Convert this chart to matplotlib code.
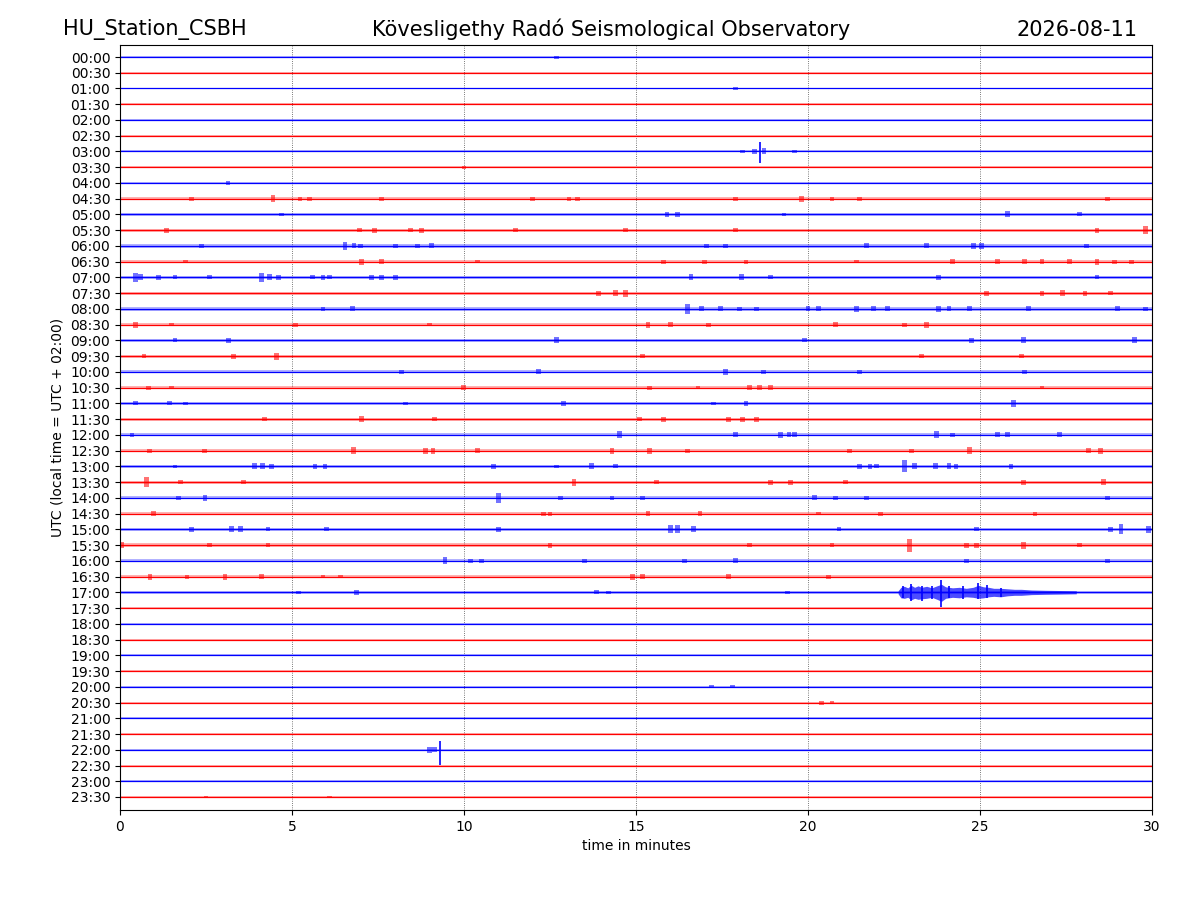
#!/usr/bin/env python3
"""Helicorder (dayplot) of station CSBH, redrawn from bursts read off the original plot."""

import matplotlib

matplotlib.use("Agg")
import matplotlib.pyplot as plt

# ------------------------------------------------------------
# Data (times in minutes within each 30 min line, amplitudes in pixels)
# ------------------------------------------------------------
STATION = "HU_Station_CSBH"
OBSERVATORY = "Kövesligethy Radó Seismological Observatory"
DAY = "2026-08-11"

ROW_LABELS = [
    "00:00", "00:30", "01:00", "01:30", "02:00", "02:30", "03:00", "03:30",
    "04:00", "04:30", "05:00", "05:30", "06:00", "06:30", "07:00", "07:30",
    "08:00", "08:30", "09:00", "09:30", "10:00", "10:30", "11:00", "11:30",
    "12:00", "12:30", "13:00", "13:30", "14:00", "14:30", "15:00", "15:30",
    "16:00", "16:30", "17:00", "17:30", "18:00", "18:30", "19:00", "19:30",
    "20:00", "20:30", "21:00", "21:30", "22:00", "22:30", "23:00", "23:30",
]

# background noise half-width per line (px)
NOISE_PX = (
    [0.8, 0.8, 0.9, 0.9, 0.8, 1.0, 1.0, 1.0, 1.0]
    + [1.6] * 26
    + [0.9] * 13
)

# short bursts per line: (minute, half amplitude px)
BURSTS = {
    0: [(12.7, 1.5)],
    2: [(17.9, 1.5)],
    6: [(18.1, 1.5), (18.45, 2.5), (18.72, 3), (19.6, 1.5)],
    7: [(10.0, 1.5)],
    8: [(3.14, 2)],
    9: [(2.08, 2), (4.45, 3.5), (5.23, 2), (5.5, 1.8), (7.6, 1.8), (12.0, 2), (13.05, 1.8),
        (13.3, 2), (17.9, 2), (19.8, 3), (20.7, 2), (21.5, 1.8), (28.7, 1.8)],
    10: [(4.7, 1.8), (15.9, 2.5), (16.2, 2.5), (19.3, 1.8), (25.8, 3), (27.9, 2)],
    11: [(1.36, 2.5), (6.97, 2), (7.4, 2.5), (8.45, 1.8), (8.77, 2.5), (11.5, 1.8), (14.7, 2),
         (17.9, 2), (28.4, 2.5), (29.8, 4)],
    12: [(2.37, 2), (6.54, 4), (6.8, 2.5), (7.0, 2), (8.0, 1.8), (8.65, 1.8), (9.06, 2.5),
         (17.05, 2), (17.6, 2), (21.7, 2.5), (23.45, 2.5), (24.8, 3), (25.05, 3), (28.1, 2)],
    13: [(1.9, 1.8), (7.02, 3), (7.6, 2.5), (10.4, 1.8), (15.8, 2), (17.0, 2), (18.2, 2),
         (21.4, 1.8), (24.2, 2.5), (25.5, 2.5), (26.3, 2.5), (26.8, 2.5), (27.6, 2.5),
         (28.4, 3), (28.9, 2), (29.4, 2)],
    14: [(0.44, 4.5), (0.6, 3), (1.11, 2.5), (1.6, 2), (2.6, 2), (4.12, 4.5), (4.35, 3),
         (4.6, 2.5), (5.6, 2), (5.9, 2.5), (6.1, 2), (7.3, 2.5), (7.6, 2.5), (8.0, 2.5),
         (16.6, 3), (18.07, 3), (18.9, 2), (23.8, 2.5), (28.4, 2)],
    15: [(13.9, 2.5), (14.4, 3), (14.7, 3.5), (25.2, 2.5), (26.8, 2.5), (27.4, 3),
         (28.05, 2.5), (28.8, 2)],
    16: [(5.9, 1.8), (6.75, 2.5), (16.5, 5), (16.9, 2.5), (17.45, 2.5), (18.0, 2), (18.5, 2),
         (20.0, 2.5), (20.3, 2.5), (21.4, 3), (21.9, 2.5), (22.3, 2.5), (23.8, 3), (24.1, 2.5),
         (24.7, 2.5), (26.4, 2.5), (29.0, 2.5), (29.8, 2)],
    17: [(0.44, 3), (1.5, 1.8), (5.1, 2), (9.0, 1.8), (15.35, 3), (16.0, 2.5), (17.1, 2),
         (20.8, 2.5), (22.8, 2), (23.45, 3)],
    18: [(1.6, 2), (3.15, 2.5), (12.7, 3), (19.9, 2), (24.75, 2.5), (26.26, 3), (29.5, 3)],
    19: [(0.7, 2), (3.3, 2.5), (4.55, 3.5), (15.2, 1.8), (23.3, 1.8), (26.2, 2)],
    20: [(8.19, 2), (12.16, 2.5), (17.6, 3), (18.7, 2), (21.5, 1.8), (26.3, 1.8)],
    21: [(0.83, 2), (1.5, 1.8), (9.98, 2.5), (15.4, 2), (16.8, 1.8), (18.3, 2.5), (18.6, 2.5),
         (18.9, 2.5), (26.8, 1.8)],
    22: [(0.45, 2), (1.45, 2), (1.9, 1.8), (8.3, 1.8), (12.9, 2.5), (17.25, 1.8), (18.2, 2.5),
         (25.97, 3.5)],
    23: [(4.2, 1.8), (7.03, 3), (9.15, 1.8), (15.1, 2), (15.8, 2.5), (17.7, 2.5), (18.1, 2.5),
         (18.5, 2.5)],
    24: [(0.35, 2), (14.53, 3.5), (17.9, 2.5), (19.2, 3), (19.45, 2.5), (19.6, 2.5),
         (23.74, 3.5), (24.2, 2), (25.5, 2.5), (25.8, 2.5), (27.3, 2.5)],
    25: [(0.85, 2), (2.46, 2), (6.78, 3.5), (8.87, 3), (9.1, 3), (10.4, 2.5), (14.3, 3),
         (15.4, 3), (16.5, 2), (21.2, 2), (23.0, 2), (24.7, 3.5), (28.15, 2.5), (28.5, 3)],
    26: [(1.6, 1.8), (3.9, 3), (4.15, 3), (4.4, 2.5), (5.67, 2.5), (5.96, 2.5), (10.85, 2.5),
         (12.7, 1.8), (13.7, 3), (14.4, 2), (21.5, 2.5), (21.8, 2.5), (22.0, 2), (22.8, 6),
         (23.1, 3), (23.7, 3), (24.1, 3), (24.3, 2.5), (25.9, 2.5)],
    27: [(0.78, 5), (1.75, 2), (3.6, 2), (13.2, 3.5), (15.6, 1.8), (18.9, 2.5), (19.5, 2.5),
         (21.1, 2), (26.26, 2.5), (28.6, 3)],
    28: [(1.7, 2), (2.47, 3), (11.0, 5), (12.8, 2), (14.3, 2), (15.2, 2), (20.2, 2.5),
         (20.8, 2), (21.7, 2), (28.7, 2)],
    29: [(0.97, 2.5), (12.3, 2), (12.5, 2), (15.35, 2.5), (16.86, 2.5), (20.3, 1.8), (22.1, 2),
         (26.6, 2)],
    30: [(2.08, 2.5), (3.25, 3), (3.5, 3), (4.3, 2), (6.0, 2), (11.0, 2.5), (16.0, 4),
         (16.2, 4), (16.66, 3), (20.9, 2), (24.9, 2), (28.8, 2.5), (29.1, 5), (29.9, 3.5)],
    31: [(0.05, 3), (2.6, 1.8), (4.3, 2), (12.5, 2.5), (18.3, 1.8), (20.7, 2), (22.96, 6.5),
         (24.6, 2.5), (24.9, 2.5), (26.26, 3.5), (27.9, 2)],
    32: [(9.45, 3.5), (10.2, 2), (10.5, 1.8), (13.5, 2), (16.4, 2), (17.9, 2.5), (24.6, 2),
         (28.7, 2)],
    33: [(0.87, 3), (1.95, 2), (3.05, 3), (4.12, 2.5), (5.9, 1.8), (6.4, 1.8), (14.9, 3),
         (15.2, 2.5), (17.7, 2.5), (20.6, 2)],
    34: [(5.2, 1.8), (6.88, 2.5), (13.85, 2), (14.2, 1.8), (19.4, 1.8)],
    40: [(17.2, 1.5), (17.8, 1.5)],
    41: [(20.4, 2), (20.7, 1.5)],
    44: [(9.0, 3), (9.15, 2.5)],
    47: [(2.5, 1.2), (6.1, 1.2)],
}

# sharp peaks: (line, minute, up px, down px)
SPIKES = [
    (6, 18.6, 9, 12),
    (44, 9.3, 9, 15),
    (34, 22.75, 6, 6),
    (34, 23.0, 8, 9),
    (34, 23.3, 6, 9),
    (34, 23.6, 6, 7),
    (34, 23.88, 12, 15),
    (34, 24.1, 6, 6),
    (34, 24.5, 6, 7),
    (34, 24.95, 9, 7),
    (34, 25.2, 7, 6),
    (34, 25.6, 4, 5),
]

# the long regional event on the 17:00 line: envelope (minute, up px, down px)
EVENT_LINE = 34
EVENT_T = [22.62, 22.7, 22.8, 22.9, 23.0, 23.1, 23.2, 23.3, 23.45, 23.6, 23.75, 23.88, 24.0,
           24.2, 24.4, 24.6, 24.8, 24.95, 25.1, 25.25, 25.4, 25.6, 25.8, 26.0, 26.2, 26.5,
           26.9, 27.3, 27.8]
EVENT_UP = [1.5, 5, 6, 4.5, 7, 5, 6.5, 5, 6, 4.5, 6.5, 8, 5.5, 4.5, 5, 4, 5, 7, 5.5, 5,
            4, 4, 3.5, 3, 3, 2.3, 2, 1.8, 1.5]
EVENT_DN = [1.5, 5.5, 6, 5, 7.5, 6, 7, 6.5, 6, 5, 7, 9, 6, 5, 5.5, 4.5, 5, 6, 5.5, 4.5,
            4, 4.5, 3.5, 3, 3, 2.3, 2, 1.8, 1.5]

# ------------------------------------------------------------
# Plot
# ------------------------------------------------------------
PX_PER_ROW = 15.74
COLORS = ["#0000ff", "#ff0000"]
BURST_W = 0.14

fig = plt.figure(figsize=(12, 9), dpi=100)
ax = fig.add_axes([0.1, 0.1, 0.86, 0.85])

for i, label in enumerate(ROW_LABELS):
    c = COLORS[i % 2]
    n = NOISE_PX[i] / PX_PER_ROW
    ax.fill_between([0, 30], [i - n, i - n], [i + n, i + n], color=c, alpha=0.3, lw=0)
    ax.plot([0, 30], [i, i], color=c, lw=0.9)
    for t, a in BURSTS.get(i, []):
        a = a / PX_PER_ROW
        ax.fill_between([t - BURST_W / 2, t + BURST_W / 2], [i - a, i - a], [i + a, i + a],
                        color=c, alpha=0.55, lw=0)

ax.fill_between(
    EVENT_T,
    [EVENT_LINE - u / PX_PER_ROW for u in EVENT_UP],
    [EVENT_LINE + d / PX_PER_ROW for d in EVENT_DN],
    color=COLORS[EVENT_LINE % 2], alpha=0.7, lw=0,
)

for row, t, up, dn in SPIKES:
    ax.vlines(t, row - up / PX_PER_ROW, row + dn / PX_PER_ROW, color=COLORS[row % 2], lw=1.2)

for x in [5, 10, 15, 20, 25]:
    ax.axvline(x, color="0.3", lw=0.6, ls=":", zorder=0)

ax.set_xlim(0, 30)
ax.set_ylim(47 + 13 / PX_PER_ROW, -12 / PX_PER_ROW)
ax.set_yticks(range(len(ROW_LABELS)))
ax.set_yticklabels(ROW_LABELS)
ax.set_xticks([0, 5, 10, 15, 20, 25, 30])
ax.set_xlabel("time in minutes")
ax.set_ylabel("UTC (local time = UTC + 02:00)")

fig.text(0.0525, 0.967, STATION, fontsize=15, ha="left", va="center")
fig.text(0.509, 0.967, OBSERVATORY, fontsize=15, ha="center", va="center")
fig.text(0.9475, 0.967, DAY, fontsize=15, ha="right", va="center")

fig.savefig("out.png", dpi=100)
plt.close(fig)
